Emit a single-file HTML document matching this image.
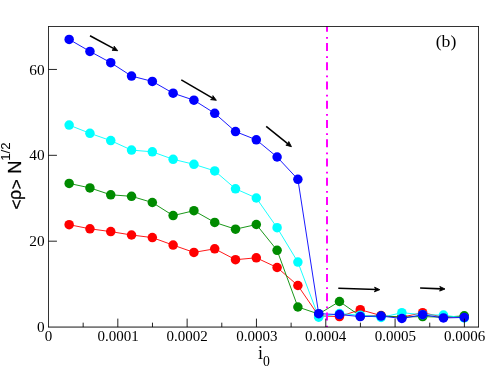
<!DOCTYPE html>
<html><head><meta charset="utf-8"><title>plot</title>
<style>
html,body{margin:0;padding:0;background:#fff;}
svg{display:block;will-change:transform;}
text{font-family:"Liberation Serif",serif;fill:#000;}
.s text{font-family:"Liberation Sans",sans-serif;}
</style></head><body>
<svg width="486" height="367" viewBox="0 0 486 367">
<rect x="0" y="0" width="486" height="367" fill="#fff"/>
<polyline points="69.15,224.70 89.94,228.80 110.74,231.60 131.53,235.00 152.33,237.60 173.12,245.10 193.92,252.40 214.71,248.80 235.51,259.70 256.30,257.80 277.10,267.50 297.89,285.50 318.69,315.90 339.48,316.60 360.28,309.70 381.07,315.60 401.87,317.20 422.66,312.70 443.46,317.20 464.25,316.80" fill="none" stroke="#ff0000" stroke-width="0.90"/>
<circle cx="69.15" cy="224.70" r="4.75" fill="#ff0000"/>
<circle cx="89.94" cy="228.80" r="4.75" fill="#ff0000"/>
<circle cx="110.74" cy="231.60" r="4.75" fill="#ff0000"/>
<circle cx="131.53" cy="235.00" r="4.75" fill="#ff0000"/>
<circle cx="152.33" cy="237.60" r="4.75" fill="#ff0000"/>
<circle cx="173.12" cy="245.10" r="4.75" fill="#ff0000"/>
<circle cx="193.92" cy="252.40" r="4.75" fill="#ff0000"/>
<circle cx="214.71" cy="248.80" r="4.75" fill="#ff0000"/>
<circle cx="235.51" cy="259.70" r="4.75" fill="#ff0000"/>
<circle cx="256.30" cy="257.80" r="4.75" fill="#ff0000"/>
<circle cx="277.10" cy="267.50" r="4.75" fill="#ff0000"/>
<circle cx="297.89" cy="285.50" r="4.75" fill="#ff0000"/>
<circle cx="318.69" cy="315.90" r="4.75" fill="#ff0000"/>
<circle cx="339.48" cy="316.60" r="4.75" fill="#ff0000"/>
<circle cx="360.28" cy="309.70" r="4.75" fill="#ff0000"/>
<circle cx="381.07" cy="315.60" r="4.75" fill="#ff0000"/>
<circle cx="401.87" cy="317.20" r="4.75" fill="#ff0000"/>
<circle cx="422.66" cy="312.70" r="4.75" fill="#ff0000"/>
<circle cx="443.46" cy="317.20" r="4.75" fill="#ff0000"/>
<circle cx="464.25" cy="316.80" r="4.75" fill="#ff0000"/>
<polyline points="69.15,183.40 89.94,187.90 110.74,194.80 131.53,196.30 152.33,202.50 173.12,215.60 193.92,210.70 214.71,222.40 235.51,229.20 256.30,224.50 277.10,250.30 297.89,307.00 318.69,314.00 339.48,301.50 360.28,316.00 381.07,316.00 401.87,317.00 422.66,316.60 443.46,317.20 464.25,315.85" fill="none" stroke="#008b00" stroke-width="0.90"/>
<circle cx="69.15" cy="183.40" r="4.75" fill="#008b00"/>
<circle cx="89.94" cy="187.90" r="4.75" fill="#008b00"/>
<circle cx="110.74" cy="194.80" r="4.75" fill="#008b00"/>
<circle cx="131.53" cy="196.30" r="4.75" fill="#008b00"/>
<circle cx="152.33" cy="202.50" r="4.75" fill="#008b00"/>
<circle cx="173.12" cy="215.60" r="4.75" fill="#008b00"/>
<circle cx="193.92" cy="210.70" r="4.75" fill="#008b00"/>
<circle cx="214.71" cy="222.40" r="4.75" fill="#008b00"/>
<circle cx="235.51" cy="229.20" r="4.75" fill="#008b00"/>
<circle cx="256.30" cy="224.50" r="4.75" fill="#008b00"/>
<circle cx="277.10" cy="250.30" r="4.75" fill="#008b00"/>
<circle cx="297.89" cy="307.00" r="4.75" fill="#008b00"/>
<circle cx="318.69" cy="314.00" r="4.75" fill="#008b00"/>
<circle cx="339.48" cy="301.50" r="4.75" fill="#008b00"/>
<circle cx="360.28" cy="316.00" r="4.75" fill="#008b00"/>
<circle cx="381.07" cy="316.00" r="4.75" fill="#008b00"/>
<circle cx="401.87" cy="317.00" r="4.75" fill="#008b00"/>
<circle cx="422.66" cy="316.60" r="4.75" fill="#008b00"/>
<circle cx="443.46" cy="317.20" r="4.75" fill="#008b00"/>
<circle cx="464.25" cy="315.85" r="4.75" fill="#008b00"/>
<polyline points="69.15,125.10 89.94,133.30 110.74,140.60 131.53,150.10 152.33,151.80 173.12,159.30 193.92,164.30 214.71,170.90 235.51,188.80 256.30,198.00 277.10,227.70 297.89,262.10 318.69,317.20 339.48,313.50 360.28,315.20 381.07,317.50 401.87,312.70 422.66,314.70 443.46,315.10 464.25,318.00" fill="none" stroke="#00ffff" stroke-width="0.90"/>
<circle cx="69.15" cy="125.10" r="4.75" fill="#00ffff"/>
<circle cx="89.94" cy="133.30" r="4.75" fill="#00ffff"/>
<circle cx="110.74" cy="140.60" r="4.75" fill="#00ffff"/>
<circle cx="131.53" cy="150.10" r="4.75" fill="#00ffff"/>
<circle cx="152.33" cy="151.80" r="4.75" fill="#00ffff"/>
<circle cx="173.12" cy="159.30" r="4.75" fill="#00ffff"/>
<circle cx="193.92" cy="164.30" r="4.75" fill="#00ffff"/>
<circle cx="214.71" cy="170.90" r="4.75" fill="#00ffff"/>
<circle cx="235.51" cy="188.80" r="4.75" fill="#00ffff"/>
<circle cx="256.30" cy="198.00" r="4.75" fill="#00ffff"/>
<circle cx="277.10" cy="227.70" r="4.75" fill="#00ffff"/>
<circle cx="297.89" cy="262.10" r="4.75" fill="#00ffff"/>
<circle cx="318.69" cy="317.20" r="4.75" fill="#00ffff"/>
<circle cx="339.48" cy="313.50" r="4.75" fill="#00ffff"/>
<circle cx="360.28" cy="315.20" r="4.75" fill="#00ffff"/>
<circle cx="381.07" cy="317.50" r="4.75" fill="#00ffff"/>
<circle cx="401.87" cy="312.70" r="4.75" fill="#00ffff"/>
<circle cx="422.66" cy="314.70" r="4.75" fill="#00ffff"/>
<circle cx="443.46" cy="315.10" r="4.75" fill="#00ffff"/>
<circle cx="464.25" cy="318.00" r="4.75" fill="#00ffff"/>
<polyline points="69.15,39.40 89.94,51.40 110.74,62.70 131.53,76.05 152.33,81.40 173.12,93.20 193.92,100.20 214.71,113.30 235.51,131.60 256.30,139.80 277.10,157.00 297.89,179.30 318.69,313.70 339.48,314.60 360.28,316.55 381.07,316.05 401.87,318.50 422.66,314.70 443.46,317.95 464.25,317.45" fill="none" stroke="#0000ff" stroke-width="0.90"/>
<circle cx="69.15" cy="39.40" r="4.75" fill="#0000ff"/>
<circle cx="89.94" cy="51.40" r="4.75" fill="#0000ff"/>
<circle cx="110.74" cy="62.70" r="4.75" fill="#0000ff"/>
<circle cx="131.53" cy="76.05" r="4.75" fill="#0000ff"/>
<circle cx="152.33" cy="81.40" r="4.75" fill="#0000ff"/>
<circle cx="173.12" cy="93.20" r="4.75" fill="#0000ff"/>
<circle cx="193.92" cy="100.20" r="4.75" fill="#0000ff"/>
<circle cx="214.71" cy="113.30" r="4.75" fill="#0000ff"/>
<circle cx="235.51" cy="131.60" r="4.75" fill="#0000ff"/>
<circle cx="256.30" cy="139.80" r="4.75" fill="#0000ff"/>
<circle cx="277.10" cy="157.00" r="4.75" fill="#0000ff"/>
<circle cx="297.89" cy="179.30" r="4.75" fill="#0000ff"/>
<circle cx="318.69" cy="313.70" r="4.75" fill="#0000ff"/>
<circle cx="339.48" cy="314.60" r="4.75" fill="#0000ff"/>
<circle cx="360.28" cy="316.55" r="4.75" fill="#0000ff"/>
<circle cx="381.07" cy="316.05" r="4.75" fill="#0000ff"/>
<circle cx="401.87" cy="318.50" r="4.75" fill="#0000ff"/>
<circle cx="422.66" cy="314.70" r="4.75" fill="#0000ff"/>
<circle cx="443.46" cy="317.95" r="4.75" fill="#0000ff"/>
<circle cx="464.25" cy="317.45" r="4.75" fill="#0000ff"/>
<clipPath id="c"><rect x="48.50" y="26.50" width="430.00" height="300.57"/></clipPath>
<line x1="327" y1="23.85" x2="327" y2="330" stroke="#ff00ff" stroke-width="2" stroke-dasharray="8 5.2 1.7 4.344" clip-path="url(#c)"/>
<line x1="117.82" y1="327.07" x2="117.82" y2="318.62" stroke="#000" stroke-width="1.00" stroke-opacity="0.86"/>
<line x1="187.13" y1="327.07" x2="187.13" y2="318.62" stroke="#000" stroke-width="1.00" stroke-opacity="0.86"/>
<line x1="256.45" y1="327.07" x2="256.45" y2="318.62" stroke="#000" stroke-width="1.00" stroke-opacity="0.86"/>
<line x1="325.77" y1="327.07" x2="325.77" y2="318.62" stroke="#000" stroke-width="1.00" stroke-opacity="0.86"/>
<line x1="395.08" y1="327.07" x2="395.08" y2="318.62" stroke="#000" stroke-width="1.00" stroke-opacity="0.86"/>
<line x1="464.40" y1="327.07" x2="464.40" y2="318.62" stroke="#000" stroke-width="1.00" stroke-opacity="0.86"/>
<line x1="83.16" y1="327.07" x2="83.16" y2="322.67" stroke="#000" stroke-width="1.00" stroke-opacity="0.86"/>
<line x1="152.48" y1="327.07" x2="152.48" y2="322.67" stroke="#000" stroke-width="1.00" stroke-opacity="0.86"/>
<line x1="221.79" y1="327.07" x2="221.79" y2="322.67" stroke="#000" stroke-width="1.00" stroke-opacity="0.86"/>
<line x1="291.11" y1="327.07" x2="291.11" y2="322.67" stroke="#000" stroke-width="1.00" stroke-opacity="0.86"/>
<line x1="360.43" y1="327.07" x2="360.43" y2="322.67" stroke="#000" stroke-width="1.00" stroke-opacity="0.86"/>
<line x1="429.74" y1="327.07" x2="429.74" y2="322.67" stroke="#000" stroke-width="1.00" stroke-opacity="0.86"/>
<line x1="48.50" y1="241.19" x2="56.95" y2="241.19" stroke="#000" stroke-width="1.00" stroke-opacity="0.86"/>
<line x1="48.50" y1="155.32" x2="56.95" y2="155.32" stroke="#000" stroke-width="1.00" stroke-opacity="0.86"/>
<line x1="48.50" y1="69.44" x2="56.95" y2="69.44" stroke="#000" stroke-width="1.00" stroke-opacity="0.86"/>
<line x1="48.00" y1="26.50" x2="479.00" y2="26.50" stroke="#000" stroke-width="1.00" stroke-opacity="0.80"/>
<line x1="48.00" y1="327.07" x2="479.00" y2="327.07" stroke="#000" stroke-width="1.00" stroke-opacity="0.92"/>
<line x1="48.50" y1="26.50" x2="48.50" y2="327.07" stroke="#000" stroke-width="1.00" stroke-opacity="0.80"/>
<line x1="478.50" y1="26.50" x2="478.50" y2="327.07" stroke="#000" stroke-width="1.00" stroke-opacity="0.80"/>
<line x1="90.00" y1="35.80" x2="114.82" y2="49.14" stroke="#000" stroke-width="1.55"/>
<polygon points="117.72,50.71 114.14,46.17 114.20,48.81 111.97,50.22" fill="#000" stroke="#000" stroke-width="0.9" stroke-linejoin="miter"/>
<line x1="181.30" y1="79.80" x2="213.48" y2="98.63" stroke="#000" stroke-width="1.55"/>
<polygon points="216.33,100.30 212.91,95.64 212.88,98.28 210.59,99.61" fill="#000" stroke="#000" stroke-width="0.9" stroke-linejoin="miter"/>
<line x1="266.20" y1="126.40" x2="288.87" y2="144.61" stroke="#000" stroke-width="1.55"/>
<polygon points="291.44,146.67 288.75,141.56 288.33,144.17 285.87,145.15" fill="#000" stroke="#000" stroke-width="0.9" stroke-linejoin="miter"/>
<line x1="338.30" y1="288.20" x2="376.50" y2="289.57" stroke="#000" stroke-width="1.55"/>
<polygon points="379.80,289.69 374.59,287.20 375.80,289.55 374.42,291.80" fill="#000" stroke="#000" stroke-width="0.9" stroke-linejoin="miter"/>
<line x1="420.10" y1="288.00" x2="441.70" y2="288.86" stroke="#000" stroke-width="1.55"/>
<polygon points="445.00,288.99 439.80,286.48 441.00,288.83 439.61,291.08" fill="#000" stroke="#000" stroke-width="0.9" stroke-linejoin="miter"/>
<text x="48.40" y="341.4" font-size="15" text-anchor="middle">0</text>
<text x="118.12" y="341.4" font-size="15" text-anchor="middle">0.0001</text>
<text x="187.03" y="341.4" font-size="15" text-anchor="middle">0.0002</text>
<text x="256.85" y="341.4" font-size="15" text-anchor="middle">0.0003</text>
<text x="325.57" y="341.4" font-size="15" text-anchor="middle">0.0004</text>
<text x="395.48" y="341.4" font-size="15" text-anchor="middle">0.0005</text>
<text x="464.50" y="341.4" font-size="15" text-anchor="middle">0.0006</text>
<text x="44.6" y="332.17" font-size="15.3" text-anchor="end">0</text>
<text x="44.6" y="246.29" font-size="15.3" text-anchor="end">20</text>
<text x="44.6" y="160.42" font-size="15.3" text-anchor="end">40</text>
<text x="44.6" y="74.54" font-size="15.3" text-anchor="end">60</text>
<text x="446.0" y="46.6" font-size="17.7" text-anchor="middle">(b)</text>
<text x="258.0" y="358.6" font-size="18">i<tspan font-size="13.7" dy="7.4">0</tspan></text>
<g class="s" transform="rotate(-90)" stroke="#000" stroke-width="0.25">
<text x="-209.53" y="22.45" font-size="17.2">&lt;</text>
<text x="-199.89" y="21.0" font-size="18">ρ</text>
<text x="-189.33" y="22.45" font-size="17.2">&gt;</text>
<text x="-173.85" y="21.0" font-size="18.3">N</text>
<text x="-160.76" y="9.8" font-size="13.25" stroke-width="0.05">1/2</text>
</g>
</svg></body></html>
